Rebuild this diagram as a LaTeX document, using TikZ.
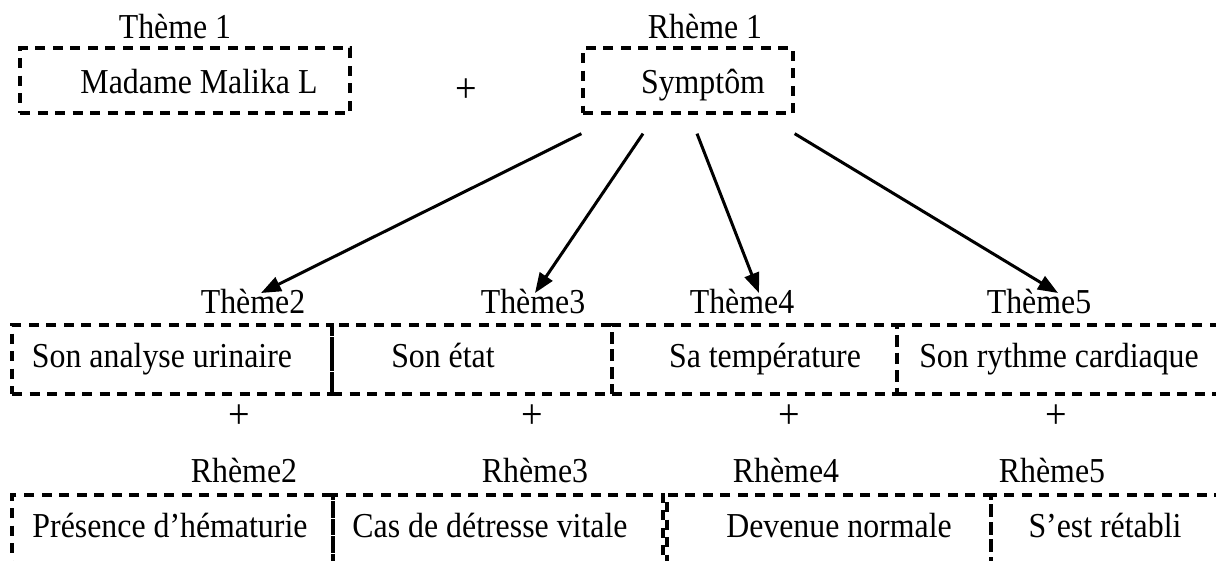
\documentclass[tikz,border=0pt]{standalone}
\usepackage{fontspec}
\setmainfont{Liberation Serif}[FakeStretch=0.91]
\usetikzlibrary{calc}
\usetikzlibrary{arrows.meta}

\begin{document}
\begin{tikzpicture}[x=1pt, y=-1pt, >={Triangle[length=20pt,width=15pt]}, font=\fontsize{35}{42}\selectfont]
    \tikzstyle{box}=[draw=black, rectangle, line width=3.3pt, dash pattern=on 10pt off 7.5pt, inner sep=0pt]
    \tikzstyle{txt}=[anchor=base, inner sep=2pt]
    \tikzstyle{plus}=[font=\fontsize{42}{48}\selectfont, inner sep=0pt]
    \tikzstyle{link}=[->, draw=black, line width=3pt]

    \useasboundingbox (0,0) rectangle (1216,560);

    \node[box, minimum width=330pt, minimum height=65pt] (b1) at (185,80.5) {};
    \node[box, minimum width=210pt, minimum height=65pt] (sym) at (688,80.5) {};
    \node[txt] (th1) at (175,38) {Thème 1};
    \node[txt] (rh1) at (705,38) {Rhème 1};
    \node[txt] (b1t) at (199,93) {Madame Malika L};
    \node[txt] (symt) at (703,93) {Symptôm};
    \node[plus] (plus1) at (466,91) {+};

    \node[box, minimum width=320pt, minimum height=69pt] (b2) at (172,359.5) {};
    \node[box, minimum width=280pt, minimum height=69pt] (b3) at (472,359.5) {};
    \node[box, minimum width=285pt, minimum height=69pt] (b4) at (754.5,359.5) {};
    \node[box, minimum width=328pt, minimum height=69pt] (b5) at (1061,359.5) {};
    \node[txt] (th2) at (253,313) {Thème2};
    \node[txt] (th3) at (533,313) {Thème3};
    \node[txt] (th4) at (742,313) {Thème4};
    \node[txt] (th5) at (1039,313) {Thème5};
    \node[txt] (b2t) at (162,367) {Son analyse urinaire};
    \node[txt] (b3t) at (443,367) {Son état};
    \node[txt] (b4t) at (765,367) {Sa température};
    \node[txt] (b5t) at (1059,367) {Son rythme cardiaque};

    \node[plus] (plus2) at (239,417) {+};
    \node[plus] (plus3) at (532,417) {+};
    \node[plus] (plus4) at (789,417) {+};
    \node[plus] (plus5) at (1056,417) {+};

    \node[box, minimum width=321pt, minimum height=80pt] (c2) at (172.5,535) {};
    \node[box, minimum width=330pt, minimum height=80pt] (c3) at (498,535) {};
    \node[box, minimum width=324pt, minimum height=80pt] (c4) at (829,535) {};
    \node[box, minimum width=234pt, minimum height=80pt] (c5) at (1108,535) {};
    \node[txt] (rh2) at (244,482) {Rhème2};
    \node[txt] (rh3) at (535,482) {Rhème3};
    \node[txt] (rh4) at (786,482) {Rhème4};
    \node[txt] (rh5) at (1052,482) {Rhème5};
    \node[txt] (c2t) at (170,537) {Présence d’hématurie};
    \node[txt] (c3t) at (490,537) {Cas de détresse vitale};
    \node[txt] (c4t) at (839,537) {Devenue normale};
    \node[txt] (c5t) at (1105,537) {S’est rétabli};

    \draw[link] ($(sym.south west)+(0,19)$) -- ($(th2.base)+(8,-20)$);
    \draw[link] ($(sym.south)+(-45,19)$) -- ($(th3.base)+(2,-20)$);
    \draw[link] ($(sym.south)+(9,19)$) -- ($(th4.base)+(17,-20)$);
    \draw[link] ($(sym.south east)+(0,19)$) -- ($(th5.base)+(19,-20)$);
\end{tikzpicture}
\end{document}
